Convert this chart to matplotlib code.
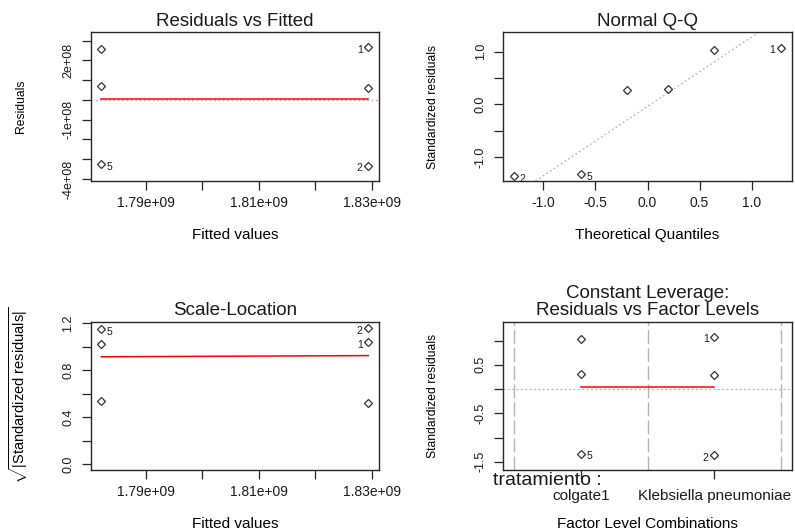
import matplotlib
matplotlib.use('agg')
import matplotlib.pyplot as plt

W, H = 795, 529

# six observations: 1-3 Klebsiella pneumoniae, 4-6 colgate1
obs_ids = ['1', '2', '3', '4', '5', '6']
fitted = [1.8294e9, 1.8294e9, 1.8294e9, 1.7822e9, 1.7822e9, 1.7822e9]
residuals = [2.68e8, -3.32e8, 0.62e8, 2.60e8, -3.25e8, 0.68e8]
std_resid = [1.08, -1.36, 0.28, 1.03, -1.33, 0.30]
theo_quant = [1.28, -1.28, -0.20, 0.64, -0.64, 0.20]
sqrt_std_resid = [1.04, 1.16, 0.52, 1.02, 1.15, 0.54]
factor_pos = [1, 1, 1, 0, 0, 0]
factor_levels = ['colgate1', 'Klebsiella pneumoniae']
flagged = ['1', '2', '5']

# red smoothers and the q-q reference line
smooth_fit_x = [1.7822e9, 1.8294e9]
smooth_resid = [0.06e8, 0.06e8]
smooth_scale = [0.915, 0.925]
smooth_fac_x = [0, 1]
smooth_fac = [0.035, 0.035]
qq_slope = 1.32
qq_intercept = -0.04

fit_ticks = [1.79e9, 1.80e9, 1.81e9, 1.82e9, 1.83e9]
fit_labels = ['1.79e+09', '', '1.81e+09', '', '1.83e+09']
res_ticks = [-4e8, -3e8, -2e8, -1e8, 0, 1e8, 2e8, 3e8]
res_labels = ['-4e+08', '', '', '-1e+08', '', '', '2e+08', '']
qx_ticks = [-1.0, -0.5, 0.0, 0.5, 1.0]
qx_labels = ['-1.0', '-0.5', '0.0', '0.5', '1.0']
qy_ticks = [-1.0, -0.5, 0.0, 0.5, 1.0]
qy_labels = ['-1.0', '', '0.0', '', '1.0']
sl_ticks = [0.0, 0.2, 0.4, 0.6, 0.8, 1.0, 1.2]
sl_labels = ['0.0', '', '0.4', '', '0.8', '', '1.2']
fl_ticks = [-1.5, -1.0, -0.5, 0.0, 0.5, 1.0]
fl_labels = ['-1.5', '', '-0.5', '', '0.5', '']

plt.rcParams['font.family'] = ['Liberation Sans', 'DejaVu Sans']
plt.rcParams['mathtext.fontset'] = 'custom'
plt.rcParams['mathtext.rm'] = 'Liberation Sans'
plt.rcParams['mathtext.it'] = 'Liberation Sans'
plt.rcParams['text.color'] = '#1a1a1a'

INK = '#262626'
GRAY = '#b4b4b4'


def box(l, t, r, b):
    return [l / W, 1 - b / H, (r - l) / W, (b - t) / H]


def style(ax, title, xlabel, ylabel, ylab_size=8.7):
    for s in ax.spines.values():
        s.set_color(INK)
        s.set_linewidth(1.0)
    ax.tick_params(axis='both', length=6.5, width=0.9, color=INK, labelcolor='#1a1a1a')
    ax.tick_params(axis='x', labelsize=10, pad=4.5)
    ax.tick_params(axis='y', labelsize=9, pad=5.5, labelrotation=90)
    for lab in ax.get_yticklabels():
        lab.set_va('center')
    ax.set_title(title, fontsize=13.5, pad=4.5, linespacing=1.05)
    ax.set_xlabel(xlabel, fontsize=11)
    ax.xaxis.set_label_coords(0.5, -54 / 148.5)
    ax.xaxis.label.set_va('center')
    ax.set_ylabel(ylabel, fontsize=ylab_size)
    ax.yaxis.set_label_coords(-70 / 288.4, 0.5)
    ax.yaxis.label.set_va('center')


def points(ax, xs, ys):
    ax.plot(xs, ys, ls='none', marker='D', ms=3.6, mfc='none', mec='#333333', mew=0.9)


def label_points(ax, xs, ys, mid):
    for x, y, name in zip(xs, ys, obs_ids):
        if name not in flagged:
            continue
        right = x < mid
        ax.annotate(name, (x, y), xytext=(4 if right else -4, -2), textcoords='offset points',
                    ha='left' if right else 'right', va='center', fontsize=7.5, color='#1a1a1a')


def dotted():
    return dict(color=GRAY, lw=0.9, dashes=(1.5, 2))


fig = plt.figure(figsize=(W / 100, H / 100), dpi=100)

# Residuals vs Fitted
ax1 = fig.add_axes(box(90.7, 32.3, 379, 181))
ax1.axhline(0, **dotted())
points(ax1, fitted, residuals)
ax1.plot(smooth_fit_x, smooth_resid, color='red', lw=1.1)
ax1.set_xlim(1.7803e9, 1.8313e9)
ax1.set_ylim(-4.1e8, 3.42e8)
ax1.set_xticks(fit_ticks, fit_labels)
ax1.set_yticks(res_ticks, res_labels)
style(ax1, 'Residuals vs Fitted', 'Fitted values', 'Residuals')
label_points(ax1, fitted, residuals, 1.8058e9)

# Normal Q-Q
ax2 = fig.add_axes(box(503.3, 32.3, 791.7, 181))
ax2.axline((0, qq_intercept), slope=qq_slope, **dotted())
points(ax2, theo_quant, std_resid)
ax2.set_xlim(-1.384, 1.384)
ax2.set_ylim(-1.46, 1.37)
ax2.set_xticks(qx_ticks, qx_labels)
ax2.set_yticks(qy_ticks, qy_labels)
style(ax2, 'Normal Q-Q', 'Theoretical Quantiles', 'Standardized residuals')
label_points(ax2, theo_quant, std_resid, 0)

# Scale-Location
ax3 = fig.add_axes(box(90.7, 321.7, 379, 470))
points(ax3, fitted, sqrt_std_resid)
ax3.plot(smooth_fit_x, smooth_scale, color='red', lw=1.1)
ax3.set_xlim(1.7803e9, 1.8313e9)
ax3.set_ylim(-0.047, 1.213)
ax3.set_xticks(fit_ticks, fit_labels)
ax3.set_yticks(sl_ticks, sl_labels)
style(ax3, 'Scale-Location', 'Fitted values',
      r'$\sqrt{|\mathrm{Standardized\ residuals}|}$', ylab_size=10.5)
ax3.yaxis.set_label_coords(-72 / 288.4, 0.5)
label_points(ax3, fitted, sqrt_std_resid, 1.8058e9)

# Constant Leverage: Residuals vs Factor Levels
ax4 = fig.add_axes(box(503.3, 321.7, 791.7, 470))
for v in [-0.5, 0.5, 1.5]:
    ax4.axvline(v, color=GRAY, lw=1.0, dashes=(10, 3))
ax4.axhline(0, **dotted())
points(ax4, factor_pos, std_resid)
ax4.plot(smooth_fac_x, smooth_fac, color='red', lw=1.1)
ax4.set_xlim(-0.58, 1.58)
ax4.set_ylim(-1.668, 1.388)
ax4.set_xticks([0, 1], factor_levels)
ax4.set_yticks(fl_ticks, fl_labels)
style(ax4, 'Constant Leverage:\nResiduals vs Factor Levels', 'Factor Level Combinations',
      'Standardized residuals')
ax4.tick_params(axis='x', labelsize=11, pad=7.0)
label_points(ax4, factor_pos, std_resid, 0.5)
ax4.text(-10 / 288.4, -15 / 148.3, 'tratamiento :', transform=ax4.transAxes,
         ha='left', va='baseline', fontsize=14)

fig.savefig('out.png', dpi=100)
